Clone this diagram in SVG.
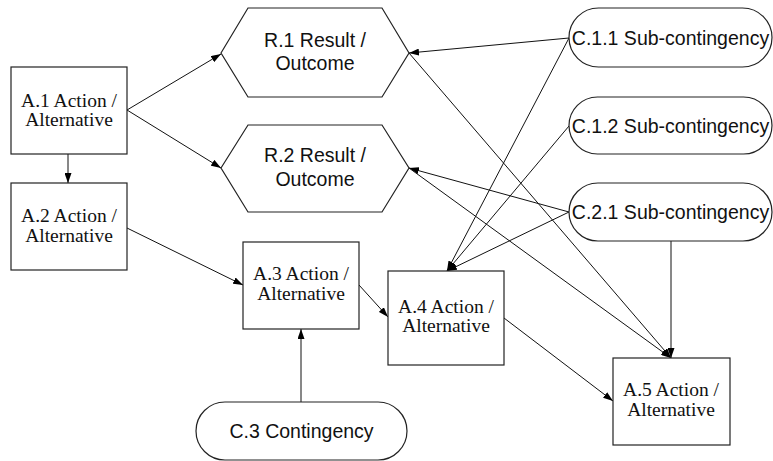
<svg xmlns="http://www.w3.org/2000/svg" width="773" height="461" viewBox="0 0 773 461">
<style>
.box{fill:#fff;stroke:#222;stroke-width:1.2}
.ser{font-family:"Liberation Serif","Times New Roman",serif;font-size:19.5px;fill:#111;text-anchor:middle}
.san{font-family:"Liberation Sans",Arial,sans-serif;font-size:19.5px;fill:#111;text-anchor:middle}
.con path{fill:none;stroke:#111;stroke-width:1;marker-end:url(#ah)}
</style>
<defs>
<marker id="ah" markerWidth="10" markerHeight="7" refX="10" refY="3.5" orient="auto" markerUnits="userSpaceOnUse">
<path d="M0,0 L10,3.5 L0,7 z" fill="#000"/>
</marker>
</defs>
<rect width="773" height="461" fill="#fff"/>
<g class="con">
<path d="M68,154 L68,183"/>
<path d="M127,110 L221,54"/>
<path d="M127,110 L221,168"/>
<path d="M127,228 L243,285"/>
<path d="M359,285 L388,317"/>
<path d="M504,318 L613,401"/>
<path d="M301,402 L301,329"/>
<path d="M569,38 L409,53"/>
<path d="M569,212 L409,168"/>
<path d="M409,53 L671,358"/>
<path d="M409,168 L671,358"/>
<path d="M671,241 L671,358"/>
<path d="M569,38 L447,271"/>
<path d="M569,126 L447,271"/>
<path d="M569,212 L447,271"/>
</g>
<g id="A1"><rect class="box" x="11" y="67" width="116" height="87"/><text class="ser" x="69" y="106.5">A.1 Action /</text><text class="ser" x="69" y="125.5">Alternative</text></g>
<g id="A2"><rect class="box" x="11" y="183" width="116" height="87"/><text class="ser" x="69" y="222">A.2 Action /</text><text class="ser" x="69" y="241.5">Alternative</text></g>
<g id="A3"><rect class="box" x="243" y="242" width="116" height="87"/><text class="ser" x="301" y="280">A.3 Action /</text><text class="ser" x="301" y="300">Alternative</text></g>
<g id="A4"><rect class="box" x="388" y="271" width="116" height="94"/><text class="ser" x="446" y="313">A.4 Action /</text><text class="ser" x="446" y="332">Alternative</text></g>
<g id="A5"><rect class="box" x="613" y="358" width="117" height="87"/><text class="ser" x="671" y="396">A.5 Action /</text><text class="ser" x="671" y="416">Alternative</text></g>
<g id="R1"><polygon class="box" points="221,53 248,8 382,8 409,53 382,97 248,97"/><text class="san" x="315" y="47">R.1 Result /</text><text class="san" x="315" y="70">Outcome</text></g>
<g id="R2"><polygon class="box" points="221,168 248,125 382,125 409,168 382,212 248,212"/><text class="san" x="315" y="162">R.2 Result /</text><text class="san" x="315" y="186">Outcome</text></g>
<g id="C11"><rect class="box" x="569" y="8" width="203" height="59" rx="29.5"/><text class="san" x="670.5" y="45">C.1.1 Sub-contingency</text></g>
<g id="C12"><rect class="box" x="569" y="97" width="203" height="57" rx="28.5"/><text class="san" x="670.5" y="133">C.1.2 Sub-contingency</text></g>
<g id="C21"><rect class="box" x="569" y="183" width="203" height="58" rx="29"/><text class="san" x="670.5" y="219">C.2.1 Sub-contingency</text></g>
<g id="C3"><rect class="box" x="196" y="402" width="211" height="58" rx="29"/><text class="san" x="301.5" y="438">C.3 Contingency</text></g>
</svg>
